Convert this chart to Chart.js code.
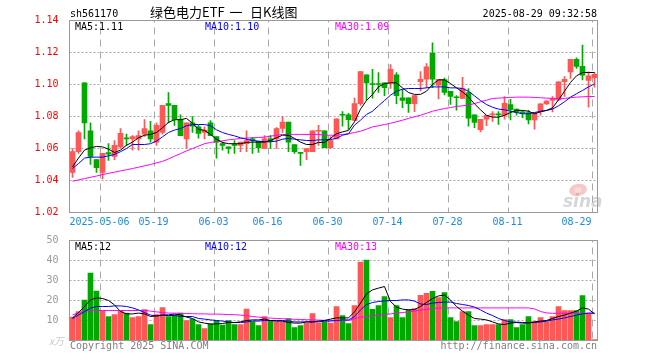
<!DOCTYPE html>
<html>
<head>
<meta charset="utf-8">
<script src="https://cdn.jsdelivr.net/npm/chart.js@4.4.0/dist/chart.umd.min.js"></script>
<style>
  body { margin: 0; background: #fff; width: 660px; height: 360px; position: relative; overflow: hidden; }
  canvas { position: absolute; left: 0; }
  #kline { top: 0; }
  #vol { top: 230px; }
</style>
</head>
<body>
<canvas id="kline" width="660" height="230"></canvas>
<canvas id="vol" width="660" height="130"></canvas>
<script>
// trading days shown (2025)
const dates = ['04-24','04-25','04-28','04-29','04-30','05-06','05-07','05-08','05-09','05-12',
  '05-13','05-14','05-15','05-16','05-19','05-20','05-21','05-22','05-23','05-26',
  '05-27','05-28','05-29','05-30','06-03','06-04','06-05','06-06','06-09','06-10',
  '06-11','06-12','06-13','06-16','06-17','06-18','06-19','06-20','06-23','06-24',
  '06-25','06-26','06-27','06-30','07-01','07-02','07-03','07-04','07-07','07-08',
  '07-09','07-10','07-11','07-14','07-15','07-16','07-17','07-18','07-21','07-22',
  '07-23','07-24','07-25','07-28','07-29','07-30','07-31','08-01','08-04','08-05',
  '08-06','08-07','08-08','08-11','08-12','08-13','08-14','08-15','08-18','08-19',
  '08-20','08-21','08-22','08-25','08-26','08-27','08-28','08-29'];

const open = [1.045,1.058,1.101,1.071,1.053,1.045,1.0575,1.055,1.061,1.0665,
  1.066,1.066,1.069,1.071,1.064,1.070,1.088,1.087,1.078,1.066,
  1.076,1.0735,1.070,1.076,1.0675,1.063,1.061,1.0625,1.062,1.063,
  1.066,1.0645,1.060,1.066,1.066,1.0725,1.0765,1.0625,1.0575,1.058,
  1.058,1.0708,1.071,1.0605,1.066,1.0812,1.081,1.0775,1.088,1.106,
  1.1006,1.1004,1.101,1.101,1.106,1.0917,1.0917,1.088,1.1017,1.1033,
  1.1195,1.0996,1.103,1.0958,1.092,1.0913,1.095,1.081,1.0717,1.0783,
  1.081,1.0814,1.0808,1.0875,1.0846,1.0829,1.0825,1.0779,1.0833,1.0879,
  1.09,1.0904,1.1017,1.1079,1.1158,1.1113,1.1025,1.1042];
const high = [1.060,1.071,1.101,1.076,1.053,1.057,1.063,1.065,1.0725,1.069,
  1.068,1.071,1.078,1.077,1.076,1.087,1.095,1.087,1.081,1.076,
  1.080,1.0745,1.0735,1.0775,1.0675,1.064,1.061,1.065,1.064,1.071,
  1.067,1.0645,1.068,1.068,1.073,1.080,1.0765,1.0625,1.0575,1.060,
  1.071,1.0745,1.071,1.0675,1.0785,1.083,1.082,1.0915,1.108,1.106,
  1.1095,1.1075,1.101,1.1125,1.1075,1.097,1.0917,1.093,1.108,1.113,
  1.126,1.1033,1.104,1.0958,1.093,1.1045,1.0975,1.081,1.0783,1.0808,
  1.083,1.083,1.0925,1.0908,1.0846,1.0838,1.0838,1.0825,1.0879,1.09,
  1.0925,1.1017,1.105,1.1158,1.1167,1.1246,1.1079,1.1075];
const low = [1.042,1.057,1.066,1.050,1.045,1.041,1.0525,1.053,1.060,1.062,
  1.059,1.059,1.0675,1.064,1.062,1.069,1.076,1.0745,1.068,1.060,
  1.070,1.0665,1.066,1.068,1.054,1.059,1.057,1.057,1.058,1.058,
  1.057,1.0575,1.060,1.060,1.060,1.070,1.058,1.057,1.0495,1.053,
  1.058,1.062,1.0605,1.060,1.066,1.074,1.072,1.0775,1.087,1.090,
  1.0915,1.095,1.093,1.0975,1.088,1.0855,1.0825,1.083,1.096,1.098,
  1.098,1.091,1.0935,1.0875,1.084,1.0913,1.074,1.073,1.0704,1.0742,
  1.077,1.075,1.0783,1.0779,1.0808,1.0792,1.0754,1.0721,1.0808,1.0875,
  1.0829,1.09,1.0925,1.1038,1.11,1.1029,1.0858,1.0983];
const close = [1.058,1.070,1.076,1.055,1.048,1.057,1.0565,1.062,1.0695,1.066,
  1.0675,1.068,1.0725,1.066,1.0745,1.087,1.087,1.078,1.068,1.076,
  1.074,1.0695,1.0715,1.068,1.064,1.062,1.060,1.062,1.064,1.065,
  1.065,1.0605,1.066,1.0645,1.0725,1.0765,1.064,1.058,1.057,1.060,
  1.071,1.0712,1.0605,1.065,1.0785,1.0808,1.078,1.088,1.108,1.101,
  1.1,1.1,1.098,1.1095,1.093,1.090,1.088,1.093,1.1033,1.111,
  1.1033,1.1033,1.095,1.0925,1.0917,1.0975,1.079,1.0763,1.0783,1.0808,
  1.0813,1.081,1.0883,1.0842,1.0825,1.0821,1.0779,1.0825,1.0879,1.0896,
  1.0913,1.1017,1.1033,1.1158,1.1113,1.1058,1.1054,1.1063];

// moving averages
const ma5 = [1.0485,1.054,1.059,1.0604,1.0613,1.061,1.0596,1.0575,1.059,1.062,
  1.064,1.0667,1.0683,1.0688,1.07,1.073,1.0763,1.078,1.078,1.0788,
  1.0758,1.072,1.0713,1.0688,1.0658,1.0638,1.063,1.063,1.063,1.0638,
  1.064,1.064,1.064,1.065,1.0667,1.0683,1.0683,1.0663,1.064,1.0625,
  1.0625,1.0638,1.0638,1.0663,1.0692,1.0704,1.0713,1.0767,1.0846,1.09,
  1.0938,1.0985,1.1006,1.101,1.101,1.0979,1.095,1.0938,1.0938,1.0958,
  1.1,1.1029,1.1029,1.1006,1.0979,1.0954,1.0921,1.0879,1.0842,1.0808,
  1.0796,1.0796,1.0808,1.0825,1.0838,1.0838,1.0833,1.0817,1.0829,1.0838,
  1.0854,1.0904,1.0958,1.1013,1.1054,1.1075,1.1075,1.1075];
const ma10 = [1.0475,1.0506,1.054,1.0546,1.0546,1.0546,1.0554,1.0563,1.058,1.06,
  1.0625,1.0625,1.0625,1.063,1.0646,1.0673,1.07,1.0715,1.0725,1.0742,
  1.075,1.075,1.075,1.0742,1.0717,1.07,1.0688,1.0679,1.0667,1.0658,
  1.065,1.0646,1.0642,1.0642,1.0646,1.0658,1.0663,1.0658,1.0654,1.065,
  1.065,1.0654,1.0654,1.0656,1.0663,1.0683,1.0692,1.0746,1.0777,1.0813,
  1.0833,1.0867,1.09,1.0933,1.0958,1.0971,1.0975,1.0975,1.0975,1.0979,
  1.0985,1.0985,1.0985,1.0979,1.0979,1.0975,1.0958,1.0929,1.09,1.0875,
  1.0858,1.0846,1.0842,1.0833,1.0825,1.0817,1.0817,1.0825,1.0833,1.0838,
  1.0846,1.0867,1.0892,1.0921,1.0942,1.0963,1.0985,1.1004];
const ma30 = [1.0396,1.0404,1.0412,1.042,1.0428,1.0437,1.0445,1.0452,1.046,1.0467,
  1.0475,1.0483,1.0492,1.05,1.051,1.052,1.0535,1.0552,1.0568,1.0585,
  1.06,1.0615,1.063,1.0638,1.0642,1.0648,1.0654,1.0658,1.0663,1.0665,
  1.0667,1.0669,1.0671,1.0677,1.0683,1.0688,1.0688,1.0688,1.0688,1.0688,
  1.0688,1.0688,1.0683,1.0683,1.0683,1.0688,1.0692,1.07,1.0708,1.0721,
  1.0735,1.0742,1.075,1.0758,1.0767,1.0777,1.0788,1.0798,1.0808,1.082,
  1.0833,1.0842,1.085,1.0856,1.0863,1.0867,1.0871,1.0881,1.0892,1.0902,
  1.0913,1.0915,1.0917,1.0919,1.0921,1.0921,1.0921,1.0919,1.0917,1.0915,
  1.0913,1.0913,1.0913,1.0917,1.0921,1.0923,1.0925,1.0925];

// volume (万)
const volume = [11.7,14.5,20.2,33.7,24.7,14.8,12,13,15,13.7,
  11.5,12,15.5,8,13,16.5,12,12.7,13.7,10,
  10.7,8,6,8.3,10,7.7,10,8,8,15.7,
  9.3,7.5,12,10,9.3,9.3,11,6.5,7.5,8.7,
  13.5,8.7,9.3,8.7,17,12.5,8.5,17.5,39.2,40.2,
  15.6,17.4,22,11.5,17.5,11.5,15.4,16,22.6,23.6,
  24.6,21.4,24,11.5,9.5,14.5,14.5,7.5,7.5,8,
  8,8,10.5,10.5,6.5,8,12,9.5,11.5,9.5,
  12,17,15,15,15,22.5,13.5,0.5];
const volMa5 = [11.3,14,17,20.3,21.3,21,20,17.8,14.5,13.3,
  13.3,13.7,13.3,12,12.3,12.8,12.8,13.2,12.8,11.7,
  11,9.3,8.7,8.2,8.3,8.5,9,9,9.3,10,
  10.3,10.3,10.7,10,9.7,9.7,9,8.7,8.7,9.3,
  9.3,9.7,10,10.7,11.3,11.3,11.3,14.3,18.7,23.3,
  25.3,26.2,27,19.5,16.7,15.7,15.3,15.5,17,19,
  21,22.3,22.7,20.3,17,14.7,12.7,11,10.7,10.3,
  9.3,8.3,8,8.7,9,8.7,8.7,9.3,9.7,10,
  11,12,12.7,13.7,14.7,16.3,15.7,13.3];
const volMa10 = [11,12.7,14.5,16.2,17,17,17,17.3,17.3,17,
  16.3,15.3,14,12.7,12.3,12.5,12.5,12.5,12,12,
  12,11,10.7,10.3,10,9.7,9.3,9,9,9.3,
  9.7,9.7,10,10,10,10,9.7,9.3,9.3,9.3,
  9.3,9.3,9.7,9.7,10,10.3,10.3,12,15.3,18,
  19,19.5,19.8,20,20,20.3,20.3,19.7,18.3,18,
  18.7,19,19.2,19.2,18.5,18,17.5,16.7,15.3,13.7,
  12.5,11,10,9.3,9.2,9,9,9,9.3,9.7,
  10.3,10.7,11.3,12,12.7,13.3,13.7,13.7];
const volMa30 = [12.8,13.8,14.8,15,15,15,15,15,15,15,
  15,15,15,14.7,14.3,14,13.7,13.7,13.6,13.5,
  13.4,13.3,13.3,13.2,13.2,13.1,13,12.9,12.7,12.4,
  12,11.7,11.3,11.2,11,10.9,10.7,10.6,10.5,10.4,
  10.3,10.2,10.1,10.1,10,10,10,11,11.7,12,
  12.3,12.7,13,13.3,13.7,14,14.3,14.7,15.2,15.6,
  16,16.2,16.3,16.3,16.3,16.3,16.3,16.3,16.3,16.3,
  16.3,16.3,16.3,16.3,16.3,16.3,16.3,15.8,14.5,13.8,
  13.6,13.6,13.6,13.6,13.6,13.6,13.6,13.6];

// axis ticks and labels
const priceTicks = [1.02, 1.04, 1.06, 1.08, 1.10, 1.12, 1.14];
const volTicks = [0, 10, 20, 30, 40, 50];
const markDates = ['05-06','05-19','06-03','06-16','06-30','07-14','07-28','08-11','08-29'];
const markText = ['2025-05-06','05-19','06-03','06-16','06-30','07-14','07-28','08-11','08-29'];
const priceMaText = ['MA5:1.11', 'MA10:1.10', 'MA30:1.09'];
const volMaText = ['MA5:12', 'MA10:12', 'MA30:13'];

const UP = '#ff5656', DOWN = '#00a800';
const MONO = 'DejaVu Sans Mono';
const GRID = '#a8a8a8';
const MA_COLORS = ['#000000', '#0000ff', '#ff00ff'];
const MA_X = [75, 205, 335];

const barColors = close.map((c, i) => c >= open[i] ? UP : DOWN);
const markIdx = markDates.map(d => dates.indexOf(d));

// one path per grid line, dashed through setLineDash
function strokeDashed(ctx, x1, y1, x2, y2, dash, offset) {
  ctx.beginPath();
  ctx.setLineDash(dash);
  ctx.lineDashOffset = offset;
  ctx.moveTo(x1, y1);
  ctx.lineTo(x2, y2);
  ctx.stroke();
}

const framePlugin = {
  id: 'frame',
  beforeDatasetsDraw(chart) {
    const { ctx, chartArea: a } = chart;
    const xs = chart.scales.x, ys = chart.scales.y;
    const left = Math.floor(a.left) + 0.5, top = Math.floor(a.top) + 0.5;
    const right = left + Math.round(a.right - a.left), bottom = top + Math.round(a.bottom - a.top);
    ctx.save();
    ctx.strokeStyle = GRID;
    ctx.lineWidth = 1;
    markIdx.forEach(i => {
      const x = Math.round(xs.getPixelForValue(i) - 3) + 0.5;
      strokeDashed(ctx, x, top, x, bottom, [7, 5], 5);
    });
    const list = chart.canvas.id === 'kline' ? priceTicks : volTicks;
    list.forEach(v => {
      if (v <= ys.min + 1e-9 || v >= ys.max - 1e-9) return;
      const y = Math.round(ys.getPixelForValue(v) - 0.5) + 0.5;
      strokeDashed(ctx, left, y, right, y, [2, 2], 0);
    });
    ctx.restore();
  },
  afterDatasetsDraw(chart) {
    const { ctx, chartArea: a } = chart;
    const left = Math.floor(a.left) + 0.5, top = Math.floor(a.top) + 0.5;
    ctx.save();
    ctx.strokeStyle = '#999';
    ctx.lineWidth = 1;
    ctx.setLineDash([]);
    ctx.strokeRect(left, top, Math.round(a.right - a.left), Math.round(a.bottom - a.top));
    ctx.restore();
  }
};

function maLine(data, color) {
  return { type: 'line', data: data, borderColor: color, borderWidth: 1, pointRadius: 0,
    tension: 0, order: 0, fill: false };
}

function xScale() {
  return {
    type: 'category',
    offset: true,
    grid: { display: false },
    border: { display: false },
    ticks: { display: false, autoSkip: false },
    afterFit: s => { s.height = 0; }
  };
}

const kPlugin = {
  id: 'ktext',
  beforeDatasetsDraw(chart) {
    // sina watermark
    const ctx = chart.ctx;
    ctx.save();
    ctx.globalAlpha = 0.3;
    ctx.fillStyle = '#e04848';
    ctx.beginPath(); ctx.ellipse(578, 190, 9, 6, -0.2, 0, Math.PI * 2); ctx.fill();
    ctx.fillStyle = '#fff';
    ctx.beginPath(); ctx.ellipse(578, 190, 4, 2.5, -0.2, 0, Math.PI * 2); ctx.fill();
    ctx.globalAlpha = 0.4;
    ctx.fillStyle = '#999';
    ctx.font = 'italic bold 17px "DejaVu Sans"';
    ctx.fillText('sina', 563, 207);
    ctx.restore();
  },
  afterDraw(chart) {
    const ctx = chart.ctx;
    const xs = chart.scales.x;
    ctx.save();
    ctx.font = '10px "' + MONO + '"';
    ctx.fillStyle = '#000';
    ctx.textAlign = 'left';
    ctx.fillText('sh561170', 70, 17);
    ctx.textAlign = 'right';
    ctx.fillText('2025-08-29 09:32:58', 597, 17);
    ctx.textAlign = 'left';
    priceMaText.forEach((t, i) => { ctx.fillStyle = MA_COLORS[i]; ctx.fillText(t, MA_X[i], 30); });
    // date labels
    ctx.fillStyle = '#1a8cdc';
    markIdx.forEach((idx, j) => {
      const x = xs.getPixelForValue(idx) - 3;
      ctx.textAlign = j === markIdx.length - 1 ? 'right' : 'center';
      ctx.fillText(markText[j], x, 225);
    });
    // title
    ctx.fillStyle = '#000';
    ctx.textAlign = 'left';
    ctx.font = '13px "Noto Sans CJK SC"';
    ctx.fillText('绿色电力ETF', 150, 16.5);
    ctx.fillText('一', 229.5, 16.5);
    ctx.fillText('日K线图', 250, 16.5);
    ctx.restore();
  }
};

new Chart(document.getElementById('kline'), {
  type: 'bar',
  data: {
    labels: dates,
    datasets: [
      maLine(ma5, MA_COLORS[0]),
      maLine(ma10, MA_COLORS[1]),
      maLine(ma30, MA_COLORS[2]),
      {
        data: dates.map((d, i) => [Math.min(open[i], close[i]), Math.max(open[i], close[i])]),
        backgroundColor: barColors, barThickness: 5, minBarLength: 1, grouped: false, order: 1
      },
      {
        data: dates.map((d, i) => [low[i], high[i]]),
        backgroundColor: barColors, barThickness: 1, grouped: false, order: 2
      }
    ]
  },
  options: {
    responsive: false,
    animation: false,
    events: [],
    layout: { padding: { left: 0, right: 62.5, top: 20.5, bottom: 17.5 } },
    plugins: { legend: { display: false }, tooltip: { enabled: false } },
    scales: {
      x: xScale(),
      y: {
        min: 1.02, max: 1.14,
        afterBuildTicks: s => { s.ticks = priceTicks.map(v => ({ value: v })); },
        grid: { display: false },
        border: { display: false },
        ticks: {
          color: '#ff0000', padding: 3,
          font: { family: MONO, size: 10 },
          callback: v => Number(v).toFixed(2)
        },
        afterFit: s => { s.width = 69.5; }
      }
    }
  },
  plugins: [framePlugin, kPlugin]
});

const volPlugin = {
  id: 'vtext',
  afterDraw(chart) {
    const ctx = chart.ctx;
    ctx.save();
    ctx.font = '10px "' + MONO + '"';
    ctx.textAlign = 'left';
    volMaText.forEach((t, i) => { ctx.fillStyle = MA_COLORS[i]; ctx.fillText(t, MA_X[i], 20); });
    ctx.fillStyle = '#808080';
    ctx.fillText('Copyright 2025 SINA.COM', 70, 119);
    ctx.textAlign = 'right';
    ctx.fillText('http://finance.sina.com.cn', 597, 119);
    ctx.fillStyle = '#c8c8c8';
    ctx.font = 'italic 10px "Noto Sans CJK SC"';
    ctx.textAlign = 'left';
    ctx.fillText('x万', 49, 115);
    ctx.restore();
  }
};

new Chart(document.getElementById('vol'), {
  type: 'bar',
  data: {
    labels: dates,
    datasets: [
      maLine(volMa5, MA_COLORS[0]),
      maLine(volMa10, MA_COLORS[1]),
      maLine(volMa30, MA_COLORS[2]),
      { data: volume, backgroundColor: barColors, barThickness: 5, order: 1 }
    ]
  },
  options: {
    responsive: false,
    animation: false,
    events: [],
    layout: { padding: { left: 0, right: 62.5, top: 10.5, bottom: 19.5 } },
    plugins: { legend: { display: false }, tooltip: { enabled: false } },
    scales: {
      x: xScale(),
      y: {
        min: 0, max: 50,
        afterBuildTicks: s => { s.ticks = volTicks.map(v => ({ value: v })); },
        grid: { display: false },
        border: { display: false },
        ticks: {
          color: '#999', padding: 3,
          font: { family: MONO, size: 10 },
          callback: v => v === 0 ? '' : String(v)
        },
        afterFit: s => { s.width = 69.5; }
      }
    }
  },
  plugins: [framePlugin, volPlugin]
});
</script>
</body>
</html>
